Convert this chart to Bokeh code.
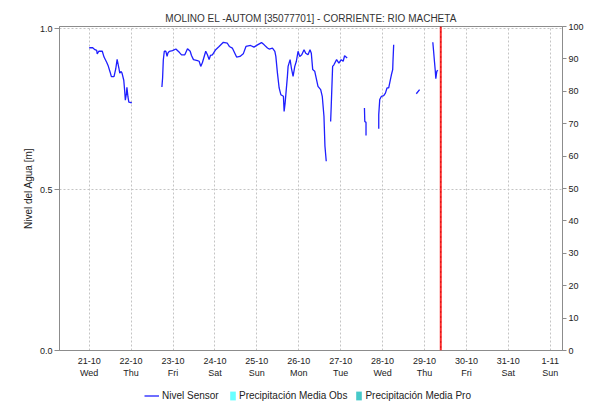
import math
from bokeh.plotting import figure
from bokeh.layouts import column
from bokeh.models import (Range1d, LinearAxis, FixedTicker, Span, Legend, LegendItem,
                          PrintfTickFormatter)
from bokeh.embed import file_html
from bokeh.resources import INLINE

# ---------------- data ----------------
chart_title = "MOLINO EL -AUTOM [35077701] - CORRIENTE: RIO MACHETA"
y_label = "Nivel del Agua [m]"
series_names = ["Nivel Sensor", "Precipitación Media Obs", "Precipitación Media Pro"]

# x = hours since 21-10 00:00
day_ticks = [0, 24, 48, 72, 96, 120, 144, 168, 192, 216, 240, 264]
day_labels = ["21-10\nWed", "22-10\nThu", "23-10\nFri", "24-10\nSat", "25-10\nSun",
              "26-10\nMon", "27-10\nTue", "28-10\nWed", "29-10\nThu", "30-10\nFri",
              "31-10\nSat", "1-11\nSun"]

seg1_h = [0.0, 2.0, 3.0, 4.3, 4.6, 5.5, 7.5, 8.5, 10.0, 10.8, 12.0, 12.7, 14.2, 15.2, 16.0,
          17.0, 17.5, 18.3, 18.8, 19.8, 20.3, 20.7, 21.3, 21.6, 22.2, 22.7, 24.4]
seg1_v = [0.941, 0.941, 0.936, 0.933, 0.922, 0.930, 0.930, 0.912, 0.896, 0.886, 0.865, 0.851,
          0.851, 0.875, 0.905, 0.878, 0.862, 0.867, 0.862, 0.840, 0.808, 0.778, 0.798, 0.818,
          0.788, 0.772, 0.770]

seg2_h = [41.63, 42.03, 42.43, 43.00, 43.91, 44.60, 45.05, 45.85, 47.73, 49.62, 50.98, 51.73,
          52.87, 54.75, 56.29, 57.83, 58.57, 59.71, 61.99, 62.96, 63.87, 64.84, 66.73, 67.70,
          68.66, 69.41, 70.55, 72.43, 74.37, 76.82, 79.10, 80.24, 81.95, 84.40, 86.34, 88.22,
          89.76, 92.39, 94.33, 96.38, 98.66, 100.20, 102.08, 103.05, 104.94, 106.30, 106.87,
          107.79, 108.76, 109.73, 111.21, 111.61, 112.18, 113.49, 113.89, 115.03, 115.77,
          116.74, 117.71, 118.62, 119.59, 120.56, 121.70, 123.01, 123.98, 125.29, 126.44,
          127.18, 127.98, 129.12, 131.00, 132.54, 133.45, 134.42, 134.99, 135.73]
seg2_v = [0.819, 0.847, 0.902, 0.930, 0.930, 0.914, 0.924, 0.930, 0.932, 0.937, 0.930, 0.926,
          0.919, 0.919, 0.938, 0.930, 0.917, 0.904, 0.901, 0.899, 0.883, 0.895, 0.930, 0.919,
          0.904, 0.917, 0.919, 0.935, 0.945, 0.958, 0.955, 0.945, 0.940, 0.912, 0.914, 0.922,
          0.945, 0.948, 0.943, 0.950, 0.957, 0.950, 0.940, 0.937, 0.940, 0.930, 0.914,
          0.862, 0.816, 0.795, 0.790, 0.743, 0.769, 0.852, 0.883, 0.904, 0.878,
          0.852, 0.883, 0.899, 0.930, 0.914, 0.919, 0.935, 0.924, 0.919, 0.935,
          0.924, 0.873, 0.868, 0.821, 0.811, 0.790, 0.728, 0.635, 0.588]

seg3_h = [138.24, 138.58, 139.38, 140.12, 141.66, 142.97, 144.29, 145.43, 146.23, 147.71]
seg3_v = [0.712, 0.759, 0.883, 0.888, 0.904, 0.893, 0.904, 0.899, 0.916, 0.909]

seg4_h = [157.6, 157.8, 158.5, 158.5]
seg4_v = [0.754, 0.712, 0.709, 0.668]

seg5_h = [165.79, 165.79, 166.36, 167.33, 168.64, 169.61, 170.52, 171.49, 172.46, 173.03,
          173.77, 173.94, 174.34]
seg5_v = [0.689, 0.733, 0.780, 0.790, 0.792, 0.800, 0.816, 0.816, 0.842, 0.857,
          0.873, 0.899, 0.950]

seg6_h = [187.29, 189.17]
seg6_v = [0.798, 0.811]

seg7_h = [196.75, 197.15, 197.73, 198.13, 198.47, 199.04, 199.61]
seg7_v = [0.958, 0.933, 0.896, 0.871, 0.845, 0.868, 0.871]

# precipitation (no rain recorded in the window)
precip_obs_h = [199.61]
precip_obs_v = [0.0]
precip_pro_h = [199.61]
precip_pro_v = [0.0]

now_h = 201.3          # current-time marker (red line)
x_start, x_end = -17.0, 271.0
level_max = 1.007
pct_max = 100

# ---------------- build ----------------
segments = [(seg1_h, seg1_v), (seg2_h, seg2_v), (seg3_h, seg3_v), (seg4_h, seg4_v),
            (seg5_h, seg5_v), (seg6_h, seg6_v), (seg7_h, seg7_v)]
xs, ys = [], []
for h, v in segments:
    if xs:
        xs.append(float("nan"))
        ys.append(float("nan"))
    xs.extend(h)
    ys.extend(v)

FONT = "Liberation Sans"
BLUE, CYAN, TEAL = "#1f1fff", "#66ffff", "#47c9c9"
W = 586

p = figure(width=W, height=384, output_backend="svg", toolbar_location=None,
           x_range=Range1d(x_start, x_end), y_range=Range1d(0, level_max),
           min_border_left=59, min_border_right=22, min_border_top=26, min_border_bottom=34,
           title=chart_title)
p.background_fill_color = "white"
p.border_fill_color = "white"
p.outline_line_color = "#8c8c8c"

p.title.text_font = FONT
p.title.text_font_size = "10px"
p.title.text_font_style = "normal"
p.title.text_color = "#333333"
p.title.align = "center"
p.title.standoff = 6

# x axis
xa = p.xaxis[0]
xa.ticker = FixedTicker(ticks=day_ticks)
xa.major_label_overrides = {t: l for t, l in zip(day_ticks, day_labels)}
xa.major_label_text_font = FONT
xa.major_label_text_font_size = "9px"
xa.major_label_text_color = "#222222"
xa.major_tick_out = 0
xa.major_tick_in = 0
xa.minor_tick_out = 0
xa.minor_tick_in = 0
xa.major_label_standoff = 5
xa.axis_line_color = "#8c8c8c"

# left axis
ya = p.yaxis[0]
ya.ticker = FixedTicker(ticks=[0.0, 0.5, 1.0])
ya.formatter = PrintfTickFormatter(format="%.1f")
ya.major_label_text_font = FONT
ya.major_label_text_font_size = "9px"
ya.major_label_text_color = "#222222"
ya.major_tick_out = 5
ya.major_tick_in = 0
ya.minor_tick_out = 0
ya.minor_tick_in = 0
ya.major_label_standoff = 2
ya.axis_line_color = "#8c8c8c"
ya.major_tick_line_color = "#8c8c8c"
ya.axis_label = y_label
ya.axis_label_text_font = FONT
ya.axis_label_text_font_size = "10px"
ya.axis_label_text_font_style = "normal"
ya.axis_label_text_color = "#222222"
ya.axis_label_standoff = 3

# right axis
p.extra_y_ranges = {"pct": Range1d(0, pct_max)}
ra = LinearAxis(y_range_name="pct", ticker=FixedTicker(ticks=list(range(0, 101, 10))))
ra.major_label_text_font = FONT
ra.major_label_text_font_size = "9px"
ra.major_label_text_color = "#222222"
ra.major_tick_out = 4
ra.major_tick_in = 0
ra.minor_tick_out = 0
ra.minor_tick_in = 0
ra.major_label_standoff = 2
ra.axis_line_color = "#8c8c8c"
ra.major_tick_line_color = "#8c8c8c"
p.add_layout(ra, "right")

# grids
p.xgrid.ticker = FixedTicker(ticks=day_ticks)
p.ygrid.ticker = FixedTicker(ticks=[0.0, 0.5, 1.0])
for g in (p.xgrid, p.ygrid):
    g.grid_line_color = "#c4c4c4"
    g.grid_line_dash = "2 2"
    g.grid_line_width = 1

# series
p.line(xs, ys, line_color=BLUE, line_width=1.3)
p.vbar(x=precip_obs_h, top=precip_obs_v, bottom=0, width=1,
       fill_color=CYAN, line_color=None, y_range_name="pct")
p.vbar(x=precip_pro_h, top=precip_pro_v, bottom=0, width=1,
       fill_color=TEAL, line_color=None, y_range_name="pct")

# now marker
p.add_layout(Span(location=now_h, dimension="height", line_color="#ff2a2a", line_width=2))
p.add_layout(Span(location=now_h, dimension="height", line_color="#a00000", line_width=1,
                  line_dash="1 4"))

# ---------------- legend strip ----------------
lg = figure(width=W, height=18, output_backend="svg", toolbar_location=None,
            x_range=Range1d(x_start, x_end), y_range=Range1d(0, pct_max),
            min_border_left=59, min_border_right=22, min_border_top=0, min_border_bottom=0,
            x_axis_location=None, y_axis_location=None)
lg.outline_line_color = None
lg.background_fill_color = "white"
lg.border_fill_color = "white"
lg.grid.visible = False
l_line = lg.line(precip_obs_h, precip_obs_v, line_color=BLUE, line_width=1.3)
l_obs = lg.vbar(x=precip_obs_h, top=precip_obs_v, width=1, fill_color=CYAN, line_color=None)
l_pro = lg.vbar(x=precip_pro_h, top=precip_pro_v, width=1, fill_color=TEAL, line_color=None)

common = dict(orientation="horizontal", padding=0, margin=0, border_line_color=None,
              background_fill_alpha=0, label_text_font=FONT, label_text_font_size="10px",
              label_text_color="#222222", label_height=11, glyph_height=11,
              label_standoff=3, spacing=8)
leg1 = Legend(items=[LegendItem(label=series_names[0], renderers=[l_line])],
              location=(85, 1), glyph_width=15, **common)
leg2 = Legend(items=[LegendItem(label=series_names[1], renderers=[l_obs]),
                     LegendItem(label=series_names[2], renderers=[l_pro])],
              location=(170, 1), glyph_width=7, **common)
lg.add_layout(leg1)
lg.add_layout(leg2)

layout = column(p, lg, spacing=0)
open("out.html", "w").write(file_html(layout, INLINE))
